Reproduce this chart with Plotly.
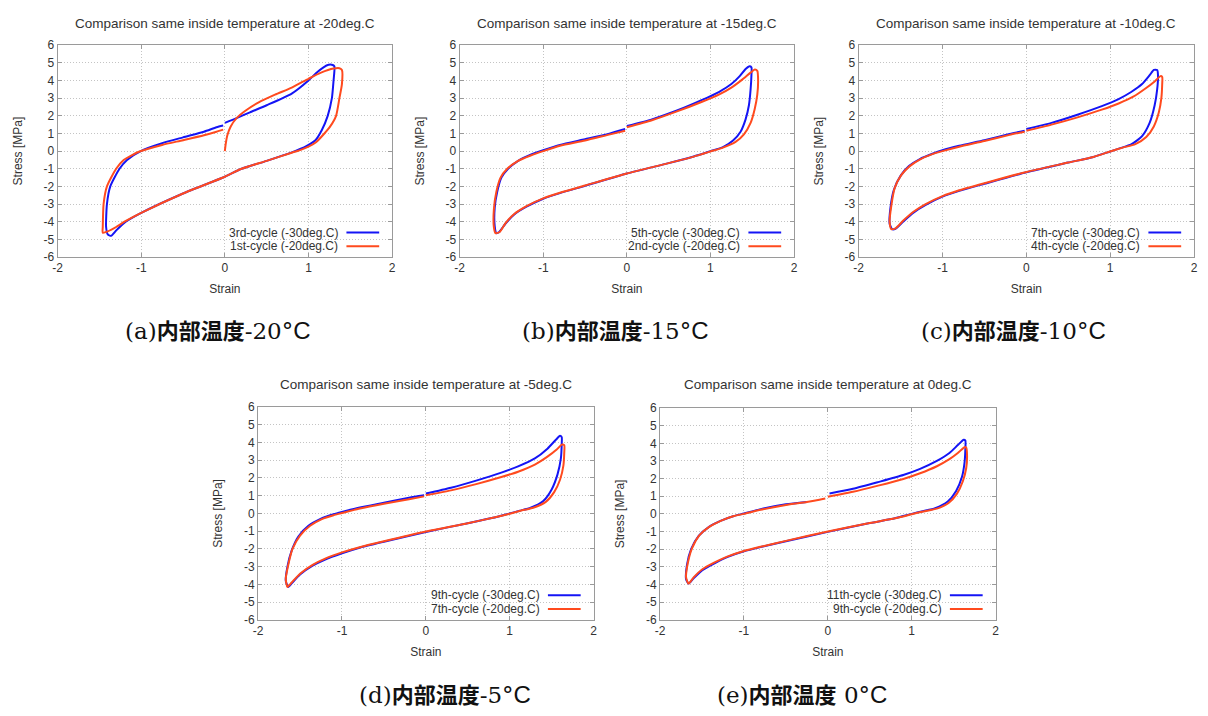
import plotly.graph_objects as go

# ---------------- data ----------------
TITLES = ["Comparison same inside temperature at -20deg.C",
          "Comparison same inside temperature at -15deg.C",
          "Comparison same inside temperature at -10deg.C",
          "Comparison same inside temperature at -5deg.C",
          "Comparison same inside temperature at 0deg.C"]
BLUE_NAMES = ["3rd-cycle (-30deg.C)", "5th-cycle (-30deg.C)", "7th-cycle (-30deg.C)",
              "9th-cycle (-30deg.C)", "11th-cycle (-30deg.C)"]
RED_NAMES = ["1st-cycle (-20deg.C)", "2nd-cycle (-20deg.C)", "4th-cycle (-20deg.C)",
             "7th-cycle (-20deg.C)", "9th-cycle (-20deg.C)"]
CAPTION_LETTERS = ["(a)", "(b)", "(c)", "(d)", "(e)"]
CAPTION_TEMPS = ["-20", "-15", "-10", "-5", " 0"]
X_TICKS = [-2, -1, 0, 1, 2]
Y_TICKS = [6, 5, 4, 3, 2, 1, 0, -1, -2, -3, -4, -5, -6]

# (a) -20 deg.C
A_BLUE_X = [0.0, 0.14, 0.3, 0.5, 0.8, 1.0, 1.1, 1.18, 1.24, 1.29, 1.31, 1.30, 1.28, 1.23, 1.16, 1.08, 0.98, 0.9, 0.8, 0.5, 0.2, 0.0, -0.5, -1.0, -1.2, -1.3, -1.36, -1.40, -1.42, -1.41, -1.37, -1.26, -1.17, -1.0, -0.75, -0.5, -0.25, -0.1, -0.02]
A_BLUE_Y = [1.6, 1.87, 2.2, 2.6, 3.26, 4.0, 4.46, 4.75, 4.89, 4.88, 4.8, 4.0, 3.0, 2.0, 1.2, 0.6, 0.3, 0.12, -0.07, -0.55, -1.0, -1.45, -2.4, -3.5, -4.05, -4.5, -4.8, -4.72, -4.3, -3.0, -2.0, -1.0, -0.5, 0.02, 0.45, 0.78, 1.1, 1.35, 1.45]
A_RED_X = [0.0, 0.01, 0.03, 0.07, 0.14, 0.25, 0.4, 0.6, 0.8, 1.0, 1.15, 1.3, 1.37, 1.40, 1.40, 1.37, 1.33, 1.26, 1.19, 1.09, 1.0, 0.9, 0.8, 0.5, 0.2, 0.0, -0.5, -1.0, -1.2, -1.3, -1.4, -1.46, -1.46, -1.45, -1.41, -1.3, -1.21, -1.02, -0.75, -0.5, -0.25, -0.1, -0.02]
A_RED_Y = [0.0, 0.4, 0.9, 1.4, 1.87, 2.3, 2.75, 3.2, 3.6, 4.1, 4.45, 4.68, 4.7, 4.6, 3.8, 3.0, 2.0, 1.4, 1.0, 0.5, 0.25, 0.06, -0.09, -0.55, -1.0, -1.45, -2.4, -3.5, -4.0, -4.3, -4.55, -4.62, -4.3, -3.0, -2.0, -1.0, -0.5, -0.02, 0.35, 0.62, 0.9, 1.1, 1.22]

# (b) -15 deg.C
B_BLUE_X = [0.0, 0.3, 0.6, 0.9, 1.1, 1.25, 1.35, 1.42, 1.46, 1.49, 1.49, 1.48, 1.46, 1.42, 1.36, 1.27, 1.15, 1.0, 0.8, 0.5, 0.0, -0.5, -0.8, -1.0, -1.2, -1.35, -1.45, -1.53, -1.56, -1.58, -1.58, -1.55, -1.5, -1.42, -1.3, -1.15, -1.0, -0.8, -0.5, -0.2, -0.02]
B_BLUE_Y = [1.42, 1.8, 2.3, 2.9, 3.35, 3.8, 4.25, 4.65, 4.8, 4.75, 4.3, 3.5, 2.6, 1.8, 1.1, 0.6, 0.23, 0.0, -0.3, -0.68, -1.27, -1.97, -2.38, -2.7, -3.15, -3.6, -4.1, -4.6, -4.65, -4.25, -3.2, -2.3, -1.5, -1.0, -0.55, -0.2, 0.05, 0.35, 0.67, 1.0, 1.25]
B_RED_X = [0.0, 0.3, 0.6, 0.9, 1.1, 1.25, 1.38, 1.48, 1.53, 1.56, 1.57, 1.56, 1.53, 1.48, 1.4, 1.3, 1.15, 1.0, 0.8, 0.5, 0.0, -0.5, -0.8, -1.0, -1.2, -1.35, -1.45, -1.52, -1.57, -1.59, -1.59, -1.56, -1.51, -1.43, -1.31, -1.15, -1.0, -0.8, -0.5, -0.2, -0.02]
B_RED_Y = [1.35, 1.75, 2.25, 2.8, 3.2, 3.6, 4.05, 4.45, 4.62, 4.55, 4.0, 3.2, 2.4, 1.6, 0.95, 0.52, 0.2, -0.02, -0.31, -0.68, -1.27, -1.95, -2.36, -2.68, -3.12, -3.58, -4.08, -4.58, -4.65, -4.3, -3.3, -2.3, -1.5, -1.0, -0.58, -0.25, 0.0, 0.3, 0.6, 0.95, 1.15]

# (c) -10 deg.C
C_BLUE_X = [0.0, 0.3, 0.6, 0.9, 1.1, 1.25, 1.38, 1.47, 1.52, 1.56, 1.57, 1.56, 1.53, 1.47, 1.38, 1.25, 1.12, 1.0, 0.8, 0.5, 0.0, -0.5, -0.8, -1.0, -1.2, -1.35, -1.47, -1.56, -1.6, -1.63, -1.62, -1.58, -1.5, -1.4, -1.27, -1.12, -1.0, -0.8, -0.5, -0.2, -0.02]
C_BLUE_Y = [1.25, 1.6, 2.05, 2.55, 2.95, 3.35, 3.8, 4.3, 4.6, 4.6, 4.3, 3.5, 2.6, 1.6, 0.85, 0.38, 0.17, -0.02, -0.33, -0.65, -1.2, -1.85, -2.25, -2.58, -3.05, -3.5, -4.0, -4.4, -4.42, -4.1, -3.2, -2.2, -1.4, -0.85, -0.45, -0.15, 0.05, 0.3, 0.62, 0.97, 1.15]
C_RED_X = [0.0, 0.3, 0.6, 0.9, 1.1, 1.28, 1.42, 1.53, 1.6, 1.62, 1.62, 1.61, 1.58, 1.52, 1.43, 1.3, 1.15, 1.0, 0.8, 0.5, 0.0, -0.5, -0.8, -1.0, -1.2, -1.35, -1.47, -1.56, -1.61, -1.63, -1.61, -1.57, -1.49, -1.39, -1.26, -1.12, -1.0, -0.8, -0.5, -0.2, -0.02]
C_RED_Y = [1.15, 1.5, 1.9, 2.35, 2.7, 3.1, 3.55, 3.95, 4.25, 4.2, 3.8, 3.0, 2.2, 1.4, 0.8, 0.4, 0.2, -0.02, -0.33, -0.65, -1.18, -1.82, -2.22, -2.55, -3.0, -3.45, -3.95, -4.38, -4.42, -4.0, -3.1, -2.1, -1.35, -0.85, -0.45, -0.17, 0.0, 0.25, 0.57, 0.92, 1.1]

# (d) -5 deg.C
D_BLUE_X = [0.0, 0.3, 0.6, 0.9, 1.1, 1.3, 1.45, 1.55, 1.6, 1.62, 1.62, 1.61, 1.57, 1.5, 1.4, 1.25, 1.12, 1.0, 0.8, 0.5, 0.0, -0.5, -0.8, -1.0, -1.2, -1.35, -1.5, -1.6, -1.64, -1.67, -1.65, -1.6, -1.52, -1.4, -1.25, -1.1, -1.0, -0.8, -0.5, -0.2, -0.02]
D_BLUE_Y = [1.12, 1.45, 1.85, 2.3, 2.65, 3.1, 3.65, 4.15, 4.38, 4.3, 3.9, 3.1, 2.2, 1.35, 0.7, 0.32, 0.15, 0.0, -0.25, -0.55, -1.05, -1.6, -1.95, -2.25, -2.6, -2.95, -3.45, -3.95, -4.15, -3.8, -3.0, -2.1, -1.3, -0.7, -0.3, -0.05, 0.08, 0.32, 0.6, 0.88, 1.02]
D_RED_X = [0.0, 0.3, 0.6, 0.9, 1.1, 1.3, 1.45, 1.56, 1.62, 1.65, 1.65, 1.64, 1.6, 1.53, 1.43, 1.28, 1.13, 1.0, 0.8, 0.5, 0.0, -0.5, -0.8, -1.0, -1.2, -1.35, -1.5, -1.6, -1.65, -1.67, -1.64, -1.59, -1.5, -1.38, -1.24, -1.1, -1.0, -0.8, -0.5, -0.2, -0.02]
D_RED_Y = [1.02, 1.3, 1.65, 2.05, 2.35, 2.75, 3.2, 3.6, 3.88, 3.85, 3.4, 2.7, 1.9, 1.2, 0.65, 0.32, 0.15, -0.02, -0.25, -0.55, -1.02, -1.57, -1.92, -2.2, -2.55, -2.9, -3.4, -3.9, -4.15, -3.7, -2.9, -2.0, -1.25, -0.7, -0.32, -0.1, 0.02, 0.26, 0.55, 0.8, 0.96]

# (e) 0 deg.C
E_BLUE_X = [0.02, 0.3, 0.6, 0.9, 1.1, 1.3, 1.45, 1.55, 1.62, 1.64, 1.64, 1.63, 1.6, 1.53, 1.43, 1.28, 1.13, 1.0, 0.8, 0.5, 0.0, -0.5, -0.8, -1.0, -1.2, -1.35, -1.5, -1.6, -1.66, -1.69, -1.68, -1.63, -1.54, -1.42, -1.28, -1.12, -1.0, -0.8, -0.5, -0.25]
E_BLUE_Y = [1.15, 1.42, 1.8, 2.2, 2.55, 3.0, 3.45, 3.9, 4.2, 4.15, 3.7, 2.9, 2.1, 1.3, 0.7, 0.32, 0.15, 0.0, -0.25, -0.52, -1.02, -1.55, -1.88, -2.12, -2.45, -2.8, -3.2, -3.65, -3.95, -3.7, -2.9, -2.0, -1.25, -0.75, -0.4, -0.12, 0.02, 0.27, 0.54, 0.68]
E_RED_X = [0.0, 0.3, 0.6, 0.9, 1.1, 1.3, 1.45, 1.55, 1.63, 1.65, 1.66, 1.65, 1.61, 1.54, 1.44, 1.3, 1.14, 1.0, 0.8, 0.5, 0.0, -0.5, -0.8, -1.0, -1.2, -1.35, -1.5, -1.6, -1.66, -1.69, -1.67, -1.62, -1.53, -1.41, -1.27, -1.12, -1.0, -0.8, -0.5, -0.25, -0.1, -0.03]
E_RED_Y = [0.97, 1.25, 1.6, 1.98, 2.3, 2.7, 3.1, 3.45, 3.78, 3.75, 3.3, 2.6, 1.85, 1.15, 0.62, 0.3, 0.14, -0.02, -0.25, -0.52, -1.0, -1.53, -1.86, -2.1, -2.42, -2.75, -3.15, -3.6, -3.95, -3.6, -2.8, -1.95, -1.2, -0.72, -0.38, -0.12, 0.0, 0.23, 0.5, 0.67, 0.8, 0.87]

BLUE_X = [A_BLUE_X, B_BLUE_X, C_BLUE_X, D_BLUE_X, E_BLUE_X]
BLUE_Y = [A_BLUE_Y, B_BLUE_Y, C_BLUE_Y, D_BLUE_Y, E_BLUE_Y]
RED_X = [A_RED_X, B_RED_X, C_RED_X, D_RED_X, E_RED_X]
RED_Y = [A_RED_Y, B_RED_Y, C_RED_Y, D_RED_Y, E_RED_Y]

# ---------------- layout ----------------
W, H = 1208, 716
# plot areas in pixels: (left, right, top, bottom)
AREAS = [(53, 390, 39, 255), (458, 795, 39, 255), (860, 1198, 39, 255),
         (255, 593, 408, 625), (660, 998, 409, 625)]
TITLE_Y = [17, 17, 17, 385, 385]
CAPTION_POS = [(215, 328), (615, 328), (1016, 328), (443, 700), (803, 700)]

BLUE = "#1414f5"
RED = "#ff4a1e"
GRAY_TXT = "#333333"
SANS = "Liberation Sans, Arial"
TICK_FONT = dict(family=SANS, size=12, color=GRAY_TXT)

fig = go.Figure()
layout = dict(width=W, height=H, margin=dict(l=0, r=0, t=0, b=0),
              paper_bgcolor="white", plot_bgcolor="white", showlegend=False)
annotations = []
shapes = []

for i in range(5):
    l, r, t, b = AREAS[i]
    xs = "" if i == 0 else str(i + 1)
    xa, ya = "x" + xs, "y" + xs
    common = dict(showline=True, mirror="ticks", linecolor="#9a9a9a", linewidth=1,
                  ticks="inside", ticklen=4, tickcolor="#9a9a9a",
                  showgrid=True, gridcolor="#c4c4c4", griddash="1px,2px", gridwidth=1,
                  zeroline=False, tickfont=TICK_FONT, fixedrange=True)
    layout["xaxis" + xs] = dict(common, domain=[l / W, r / W], anchor=ya,
                                range=[-2, 2], tickvals=X_TICKS,
                                ticktext=[str(v) for v in X_TICKS],
                                title=dict(text="Strain", font=dict(family=SANS, size=12, color=GRAY_TXT), standoff=10))
    layout["yaxis" + xs] = dict(common, domain=[1 - b / H, 1 - t / H], anchor=xa,
                                range=[-6, 6], tickvals=Y_TICKS,
                                ticktext=[str(v) for v in Y_TICKS],
                                title=dict(text="Stress [MPa]", font=dict(family=SANS, size=12, color=GRAY_TXT), standoff=18))
    fig.add_trace(go.Scatter(x=BLUE_X[i], y=BLUE_Y[i], mode="lines", name=BLUE_NAMES[i],
                             line=dict(color=BLUE, width=2, shape="spline", smoothing=0.6),
                             xaxis=xa, yaxis=ya))
    fig.add_trace(go.Scatter(x=RED_X[i], y=RED_Y[i], mode="lines", name=RED_NAMES[i],
                             line=dict(color=RED, width=2, shape="spline", smoothing=0.6),
                             xaxis=xa, yaxis=ya))
    # title
    annotations.append(dict(text=TITLES[i], x=(l + r) / 2 / W, y=1 - TITLE_Y[i] / H,
                            xref="paper", yref="paper", xanchor="center", yanchor="middle",
                            showarrow=False,
                            font=dict(family=SANS, size=13.5, color=GRAY_TXT)))
    # legend (text left, line sample right)
    pw, ph = r - l, b - t
    for k, (name, col) in enumerate([(BLUE_NAMES[i], BLUE), (RED_NAMES[i], RED)]):
        yy = (25 - 14 * k) / ph
        annotations.append(dict(text=name, x=1 - 52 / pw, y=yy,
                                xref=xa + " domain", yref=ya + " domain",
                                xanchor="right", yanchor="middle", showarrow=False,
                                font=dict(family=SANS, size=12, color=GRAY_TXT)))
        shapes.append(dict(type="line", xref=xa + " domain", yref=ya + " domain",
                           x0=1 - 46 / pw, x1=1 - 13 / pw, y0=yy, y1=yy,
                           line=dict(color=col, width=2)))
    # caption
    cx, cy = CAPTION_POS[i]
    serif = "font-family:'DejaVu Serif', 'Liberation Serif', serif;font-size:23px"
    csans = "font-family:'Liberation Sans', Arial, sans-serif;font-size:24px"
    cap = (f"<span style=\"{serif}\">{CAPTION_LETTERS[i]}</span><b>内部温度</b>"
           f"<span style=\"{serif}\">{CAPTION_TEMPS[i]}°</span>"
           f"<span style=\"{csans}\">C</span>")
    annotations.append(dict(text=cap, x=cx / W, y=1 - cy / H, xref="paper", yref="paper",
                            xanchor="center", yanchor="middle", showarrow=False,
                            font=dict(family="Noto Sans CJK JP", size=22, color="#111111")))

layout["annotations"] = annotations
layout["shapes"] = shapes
fig.update_layout(**layout)
fig.write_html("out.html", config={"displayModeBar": False},
               post_script="document.body.style.margin='0';document.body.style.overflow='hidden';")
